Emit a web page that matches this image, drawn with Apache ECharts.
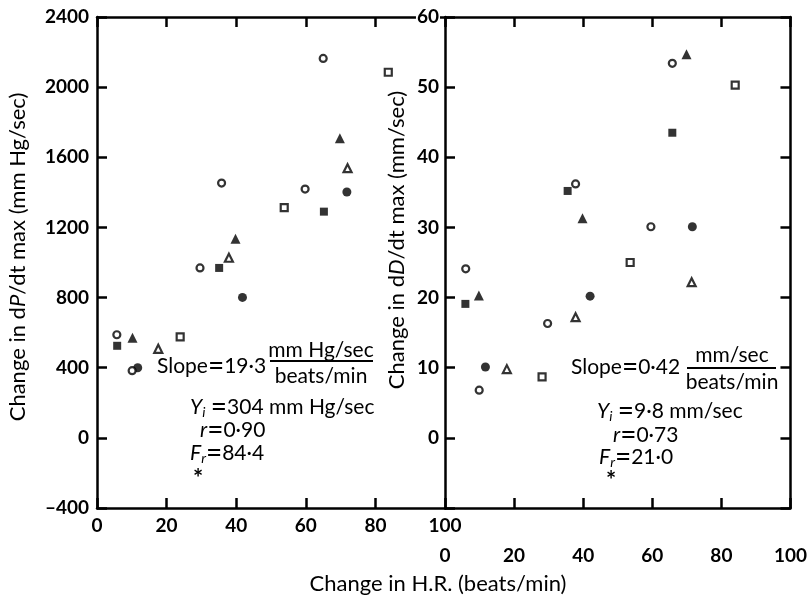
<!DOCTYPE html>
<html>
<head>
<meta charset="utf-8">
<script src="https://cdn.jsdelivr.net/npm/echarts@6/dist/echarts.min.js"></script>
<style>
  html, body { margin: 0; padding: 0; background: #fff; }
  #chart { width: 810px; height: 597px; }
</style>
</head>
<body>
<div id="chart"></div>
<script>
// axis ranges
var hrRange = [0, 100, 20];
var dpRange = [-400, 2400, 400];
var ddRange = [-10, 60, 10];

// left panel: change in dP/dt max (mm Hg/sec) vs change in H.R.
var dpFilledCircle = [[11.7, 400], [41.8, 801], [71.8, 1402]];
var dpOpenCircle = [[5.7, 588], [10.1, 383], [29.6, 969], [35.8, 1453], [59.8, 1419], [65.0, 2164]];
var dpFilledSquare = [[5.8, 525], [35.1, 969], [65.2, 1290]];
var dpOpenSquare = [[23.9, 576], [53.8, 1313], [83.7, 2085]];
var dpFilledTri = [[10.2, 571], [39.8, 1135], [69.8, 1709]];
var dpOpenTri = [[17.6, 508], [37.9, 1027], [72.0, 1538]];

// right panel: change in dD/dt max (mm/sec) vs change in H.R.
var ddFilledCircle = [[11.7, 10.1], [42.0, 20.2], [71.6, 30.1]];
var ddOpenCircle = [[6.0, 24.1], [9.9, 6.8], [29.7, 16.3], [37.8, 36.2], [59.6, 30.1], [65.8, 53.4]];
var ddFilledSquare = [[5.9, 19.1], [35.5, 35.2], [65.8, 43.5]];
var ddOpenSquare = [[28.1, 8.7], [53.6, 25.0], [84.0, 50.3]];
var ddFilledTri = [[9.8, 20.3], [39.8, 31.3], [69.9, 54.7]];
var ddOpenTri = [[17.9, 9.8], [37.8, 17.2], [71.4, 22.2]];

var FONT = 'Lato';
var chart = echarts.init(document.getElementById('chart'));

function axisBase(extra) {
  var a = {
    axisLine: { show: true, onZero: false, lineStyle: { color: '#000', width: 2.5 } },
    axisTick: { show: true, inside: true, length: 10, lineStyle: { color: '#000', width: 2.5 } },
    axisLabel: { show: false },
    splitLine: { show: false }
  };
  for (var k in extra) a[k] = extra[k];
  return a;
}
var tickLabel = { color: '#000', fontFamily: FONT, fontWeight: 'bold', fontSize: 19 };

function lbl(margin, extra) {
  var o = { show: true, margin: margin };
  for (var k in tickLabel) o[k] = tickLabel[k];
  for (var k2 in extra || {}) o[k2] = extra[k2];
  return o;
}

function sc(name, xi, yi, data, symbol, filled, size) {
  return {
    name: name, type: 'scatter', xAxisIndex: xi, yAxisIndex: yi,
    data: data, symbol: symbol, symbolSize: size,
    itemStyle: filled ? { color: '#000' } : { color: '#fff', borderColor: '#000', borderWidth: 2.2 },
    z: 5
  };
}

var rich = {
  i: { fontFamily: FONT, fontSize: 21, fontStyle: 'italic', lineHeight: 24, verticalAlign: 'middle' },
  n: { fontFamily: FONT, fontSize: 21, lineHeight: 24, verticalAlign: 'middle' },
  e: { fontFamily: FONT, fontSize: 28, lineHeight: 24, verticalAlign: 'middle' },
  a: { fontFamily: FONT, fontSize: 24, fontWeight: 'bold', lineHeight: 24, verticalAlign: 'middle' },
  s: { fontFamily: FONT, fontSize: 14, fontStyle: 'italic', lineHeight: 14, verticalAlign: 'bottom' }
};
function T(x, y, text, align) {
  return {
    type: 'text', x: x, y: y, z: 10,
    style: {
      text: text, fontFamily: FONT, fontSize: 21, fill: '#000',
      align: align || 'left', verticalAlign: 'middle',
      textAlign: align || 'left', textVerticalAlign: 'middle', rich: rich
    }
  };
}
function L(x1, x2, y) {
  return { type: 'line', z: 10, shape: { x1: x1, y1: y, x2: x2, y2: y }, style: { stroke: '#000', lineWidth: 2.2 } };
}
var nameRich = {
  i: { fontFamily: FONT, fontSize: 22, fontStyle: 'italic' },
  n: { fontFamily: FONT, fontSize: 22 }
};
function N(x, y, text, rot) {
  return {
    type: 'text', x: x, y: y, rotation: rot || 0, z: 10,
    style: { text: text, align: 'center', verticalAlign: 'middle',
      textAlign: 'center', textVerticalAlign: 'middle', fill: '#000', rich: nameRich }
  };
}

var option = {
  backgroundColor: '#fff',
  animation: false,
  grid: [
    { left: 97, top: 17, width: 348, height: 491 },
    { left: 445, top: 17, width: 348, height: 491 }
  ],
  xAxis: [
    axisBase({ type: 'value', gridIndex: 0, position: 'bottom', min: hrRange[0], max: hrRange[1], interval: hrRange[2], axisLabel: lbl(8) }),
    axisBase({ type: 'value', gridIndex: 0, position: 'top', min: hrRange[0], max: hrRange[1], interval: hrRange[2] }),
    axisBase({ type: 'value', gridIndex: 1, position: 'bottom', min: hrRange[0], max: hrRange[1], interval: hrRange[2], axisLabel: lbl(38) }),
    axisBase({ type: 'value', gridIndex: 1, position: 'top', min: hrRange[0], max: hrRange[1], interval: hrRange[2] })
  ],
  yAxis: [
    axisBase({ type: 'value', gridIndex: 0, position: 'left', min: dpRange[0], max: dpRange[1], interval: dpRange[2],
      axisLabel: lbl(8, { formatter: function (v) { return v < 0 ? '\u2013' + (-v) : String(v); } }) }),
    axisBase({ type: 'value', gridIndex: 1, position: 'left', min: ddRange[0], max: ddRange[1], interval: ddRange[2], z: 4,
      axisLabel: lbl(5, { backgroundColor: '#fff', padding: [0, 1, 0, 1],
        formatter: function (v) { return v < 0 ? '' : String(v); } }) }),
    axisBase({ type: 'value', gridIndex: 1, position: 'right', min: ddRange[0], max: ddRange[1], interval: ddRange[2] })
  ],
  series: [
    sc('dp filled circle', 0, 0, dpFilledCircle, 'circle', true, 9),
    sc('dp open circle', 0, 0, dpOpenCircle, 'circle', false, 7),
    sc('dp filled square', 0, 0, dpFilledSquare, 'rect', true, 8),
    sc('dp open square', 0, 0, dpOpenSquare, 'rect', false, 7),
    sc('dp filled triangle', 0, 0, dpFilledTri, 'triangle', true, 10),
    sc('dp open triangle', 0, 0, dpOpenTri, 'triangle', false, 8),
    sc('dd filled circle', 2, 1, ddFilledCircle, 'circle', true, 9),
    sc('dd open circle', 2, 1, ddOpenCircle, 'circle', false, 7),
    sc('dd filled square', 2, 1, ddFilledSquare, 'rect', true, 8),
    sc('dd open square', 2, 1, ddOpenSquare, 'rect', false, 7),
    sc('dd filled triangle', 2, 1, ddFilledTri, 'triangle', true, 10),
    sc('dd open triangle', 2, 1, ddOpenTri, 'triangle', false, 8)
  ],
  graphic: [
    // axis names
    N(18, 257, '{n|Change in d}{i|P}{n|/dt max (mm Hg/sec)}', Math.PI / 2),
    N(397, 240, '{n|Change in d}{i|D}{n|/dt max (mm/sec)}', Math.PI / 2),
    N(438, 584, '{n|Change in H.R. (beats/min)}'),

    // left panel statistics
    T(157, 366, '{n|Slope}{e|=}{n|19\u00b73}'),
    T(321, 350, '{n|mm Hg/sec}', 'center'),
    L(270, 373, 361),
    T(321, 376, '{n|beats/min}', 'center'),
    T(190, 407, '{i|Y}{s|i}{n| }{e|=}{n|304 mm Hg/sec}'),
    T(200, 430, '{i|r}{e|=}{n|0\u00b790}'),
    T(190, 453, '{i|F}{s|r}{e|=}{n|84\u00b74}'),
    T(193, 479, '{a|*}'),

    // right panel statistics
    T(571, 367, '{n|Slope}{e|=}{n|0\u00b742}'),
    T(732, 355, '{n|mm/sec}', 'center'),
    L(687, 776, 368),
    T(732, 382, '{n|beats/min}', 'center'),
    T(597, 411, '{i|Y}{s|i}{n| }{e|=}{n|9\u00b78 mm/sec}'),
    T(613, 435, '{i|r}{e|=}{n|0\u00b773}'),
    T(599, 457, '{i|F}{s|r}{e|=}{n|21\u00b70}'),
    T(606, 481, '{a|*}')
  ]
};
chart.setOption(option);
</script>
</body>
</html>
